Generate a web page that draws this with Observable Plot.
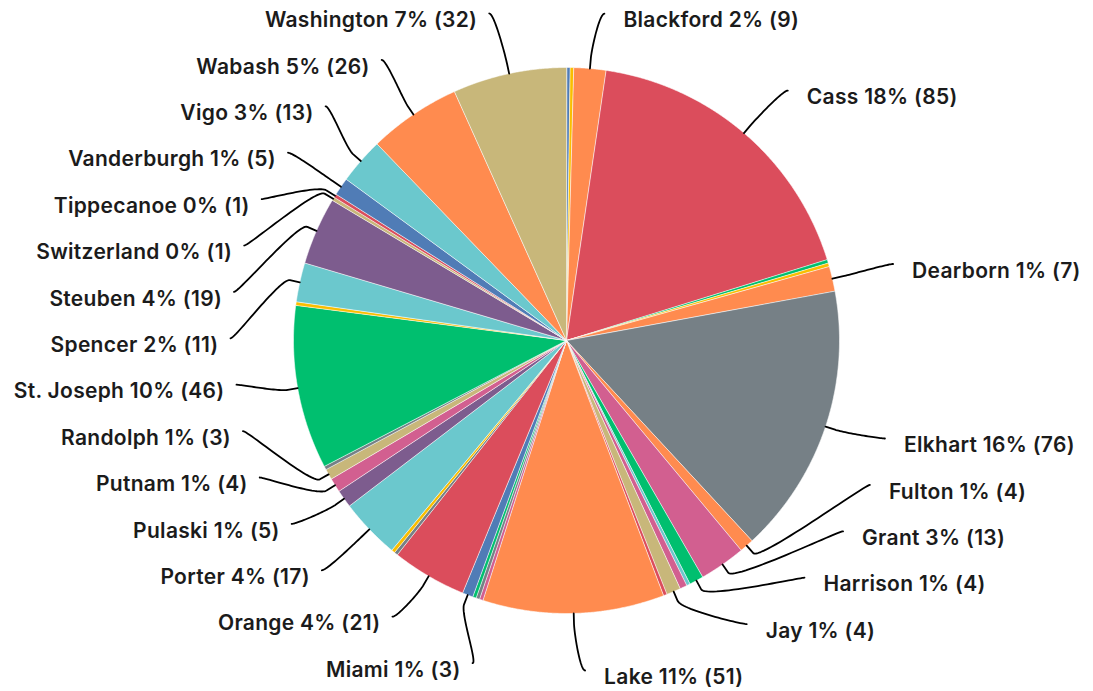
<!DOCTYPE html>
<html><head><meta charset="utf-8">
<script src="https://cdn.jsdelivr.net/npm/d3@7"></script>
<script src="https://cdn.jsdelivr.net/npm/@observablehq/plot@0.6"></script>
<style>
html,body{margin:0;padding:0;background:#fff;}
#chart{width:1093px;height:691px;}
</style></head><body><div id="chart"></div>
<script>
// ---- data (slices in drawing order, clockwise from 12 o'clock) ----
const counties = ["Allen","Bartholomew","Blackford","Cass","Clay","Crawford","Dearborn","Elkhart","Fulton","Grant","Harrison","Howard","Jasper","Jay","Jefferson","Lake","Lawrence","Marshall","Martin","Miami","Orange","Owen","Pike","Porter","Pulaski","Putnam","Randolph","Rush","St. Joseph","Shelby","Spencer","Steuben","Switzerland","Tippecanoe","Vanderburgh","Vigo","Wabash","Washington"];
const counts = [1,1,9,85,1,1,7,76,4,13,4,1,2,4,1,51,1,1,1,3,21,1,1,17,5,4,3,1,46,1,11,19,1,1,5,13,26,32];
// slices whose labels are hidden in the chart
const unlabeled = ["Allen","Bartholomew","Clay","Crawford","Howard","Jasper","Jefferson","Lawrence","Marshall","Martin","Owen","Pike","Rush","Shelby"];
// full county list: colours cycle through the palette in this order
const allCounties = ["Adams","Allen","Bartholomew","Benton","Blackford","Boone","Brown","Carroll","Cass","Clark","Clay","Clinton","Crawford","Daviess","Dearborn","Decatur","DeKalb","Delaware","Dubois","Elkhart","Fayette","Floyd","Fountain","Franklin","Fulton","Gibson","Grant","Greene","Hamilton","Hancock","Harrison","Hendricks","Henry","Howard","Huntington","Jackson","Jasper","Jay","Jefferson","Jennings","Johnson","Knox","Kosciusko","LaGrange","Lake","LaPorte","Lawrence","Madison","Marion","Marshall","Martin","Miami","Monroe","Montgomery","Morgan","Newton","Noble","Ohio","Orange","Owen","Parke","Perry","Pike","Porter","Posey","Pulaski","Putnam","Randolph","Ripley","Rush","St. Joseph","Scott","Shelby","Spencer","Starke","Steuben","Sullivan","Switzerland","Tippecanoe","Tipton","Union","Vanderburgh","Vermillion","Vigo","Wabash","Warren","Warrick","Washington","Wayne","Wells","White","Whitley"];
const palette = ["#00BF6F","#507CB6","#F9BE00","#6BC8CD","#FF8B4F","#7D5C8E","#D25F90","#C8B77A","#DB4D5C","#768086"];

// ---- layout ----
const W = 1093, H = 691;
const CX = 566, CY = 340;        // pie centre in px
const R = 273;                   // pie radius
const RL = 325;                  // natural label radius
const RX = 336;                  // radius used for label x
const GAP = 46.4;                // min vertical distance between labels
const TEXT_DY = 7;

const total = d3.sum(counts);
const arcs = d3.pie().sort(null).value(d => d)(counts);

// slice polygons
const slicePts = [];
arcs.forEach((a, i) => {
  const name = counties[i];
  slicePts.push({name, x: 0, y: 0});
  const n = Math.max(2, Math.ceil((a.endAngle - a.startAngle) / 0.004));
  for (let k = 0; k <= n; k++) {
    const t = a.startAngle + (a.endAngle - a.startAngle) * k / n;
    slicePts.push({name, x: R * Math.sin(t), y: -R * Math.cos(t)});
  }
});

// labels
const labels = arcs.map((a, i) => {
  const mid = (a.startAngle + a.endAngle) / 2;
  return {
    name: counties[i], value: counts[i], mid,
    side: Math.sin(mid) >= 0 ? 1 : -1,
    ny: -3 - RL * Math.cos(mid),
    nx: RL * Math.sin(mid),
    text: `${counties[i]} ${Math.round(counts[i] / total * 100)}% (${counts[i]})`
  };
}).filter(d => !unlabeled.includes(d.name));

function distribute(items, lo, hi, gap) {
  items.sort((a, b) => a.ny - b.ny);
  const blocks = items.map(d => ({items: [d]}));
  const place = b => {
    const n = b.items.length;
    const p = d3.mean(b.items, (d, i) => d.ny - i * gap);
    b.pos = Math.max(lo, Math.min(hi - (n - 1) * gap, p));
  };
  blocks.forEach(place);
  let merged = true;
  while (merged) {
    merged = false;
    for (let i = 0; i < blocks.length - 1; i++) {
      const a = blocks[i], b = blocks[i + 1];
      if (a.pos + a.items.length * gap > b.pos + 1e-9) {
        a.items = a.items.concat(b.items);
        blocks.splice(i + 1, 1);
        place(a);
        merged = true;
        break;
      }
    }
  }
  blocks.forEach(b => b.items.forEach((d, i) => d.y = b.pos + i * gap));
}
const rightL = labels.filter(d => d.side > 0);
const leftL = labels.filter(d => d.side < 0);
distribute(rightL, 11 - CY, 670 - CY, GAP);
distribute(leftL, 13 - CY, 661 - CY, GAP);

const connPts = [];
labels.forEach(d => {
  const gx = Math.sqrt(Math.max(0, RX * RX - d.y * d.y));
  const moved = Math.abs(d.y - d.ny) > 10;
  const off = moved ? gx : Math.min(gx, Math.abs(d.nx) + 10);
  d.cx = d.side * off;
  d.tx = d.cx + (d.side > 0 ? 19 : -12);
  d.ty = d.y + TEXT_DY;
  const s = Math.sin(d.mid), c = Math.cos(d.mid);
  const t = [R * s, -R * c], b = [(R + 10) * s, -(R + 10) * c];
  const p0 = [d.cx, d.y], p1 = [d.cx - d.side * 5, d.y], p2 = [2 * b[0] - t[0], 2 * b[1] - t[1]], p3 = b;
  for (let k = 0; k <= 30; k++) {
    const u = k / 30, v = 1 - u;
    connPts.push({name: d.name,
      x: v*v*v*p0[0] + 3*v*v*u*p1[0] + 3*v*u*u*p2[0] + u*u*u*p3[0],
      y: v*v*v*p0[1] + 3*v*v*u*p1[1] + 3*v*u*u*p2[1] + u*u*u*p3[1]});
  }
  connPts.push({name: d.name, x: t[0], y: t[1]});
});

const font = "Inter, 'Noto Sans', sans-serif";
const textOpts = {x: "tx", y: "ty", text: "text", fontSize: 21, fontWeight: 600, fill: "#1b1b1b", fontFamily: font};
const chart = Plot.plot({
  width: W, height: H, margin: 0,
  style: {background: "#fff", fontFamily: font},
  x: {domain: [-CX, W - CX], range: [0, W], axis: null},
  y: {domain: [-CY, H - CY], range: [0, H], axis: null},
  color: {type: "ordinal", domain: allCounties, range: palette},
  marks: [
    Plot.line(slicePts, {x: "x", y: "y", z: "name", fill: "name", stroke: "#fff", strokeWidth: 0.8, strokeOpacity: 0.7, curve: "linear-closed"}),
    Plot.line(connPts, {x: "x", y: "y", z: "name", stroke: "#000", strokeWidth: 1.8, curve: "linear"}),
    Plot.text(rightL, {...textOpts, textAnchor: "start"}),
    Plot.text(leftL, {...textOpts, textAnchor: "end"})
  ]
});
chart.querySelectorAll("text").forEach(t => t.style.letterSpacing = "0.3px");
document.getElementById("chart").appendChild(chart);
</script>
</body></html>
